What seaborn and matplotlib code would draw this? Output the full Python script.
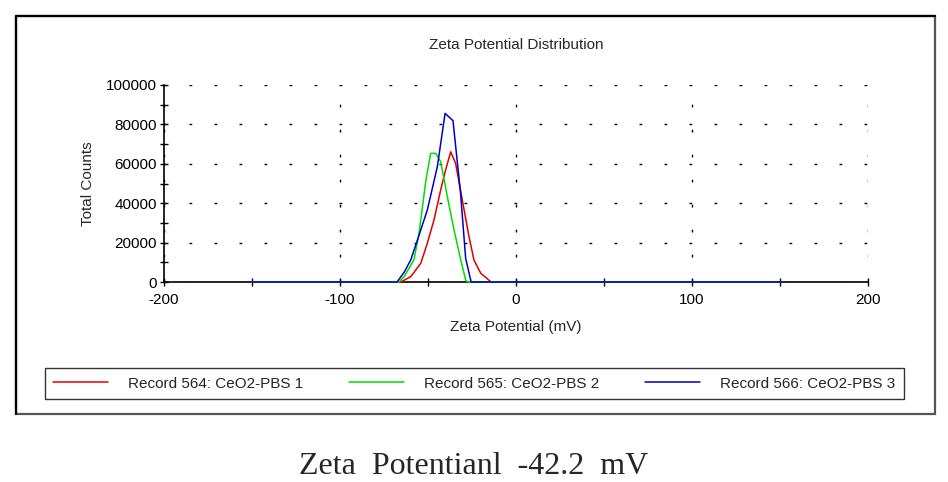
import matplotlib
matplotlib.use("Agg")
import matplotlib.pyplot as plt
import seaborn as sns
import pandas as pd
from matplotlib.patches import Rectangle
from matplotlib.ticker import MultipleLocator

# values (mV, counts)
red_x = [-150, -65.5, -59.8, -54.1, -50.4, -46.6, -42.8, -40.0, -37.1, -34.3, -30.5, -26.7, -23.9, -20.0, -14.4, -13.5, 150]
red_y = [0, 0, 2700, 9500, 19600, 31500, 46700, 56900, 66100, 60200, 41600, 23000, 11200, 4400, 200, 0, 0]

green_x = [-150, -66.5, -63.6, -58.0, -55.1, -51.3, -48.5, -45.6, -42.8, -39.0, -35.2, -31.4, -28.6, -27.5, 150]
green_y = [0, 0, 2700, 11200, 24700, 50900, 65300, 65300, 61100, 43300, 26400, 11200, 1000, 0, 0]

blue_x = [-150, -67.6, -63.5, -59.8, -55.0, -50.4, -44.7, -40.3, -35.8, -31.5, -28.6, -25.5, 150]
blue_y = [0, 0, 5000, 11200, 24000, 36500, 58500, 85600, 81900, 45000, 12000, 0, 0]

names = ["Record 564: CeO2-PBS 1", "Record 565: CeO2-PBS 2", "Record 566: CeO2-PBS 3"]
colors = ["#e00000", "#00dd00", "#0000c8"]

df = pd.concat([
    pd.DataFrame({"x": red_x, "y": red_y, "rec": names[0]}),
    pd.DataFrame({"x": green_x, "y": green_y, "rec": names[1]}),
    pd.DataFrame({"x": blue_x, "y": blue_y, "rec": names[2]}),
])

sns.set_style("white")
plt.rcParams["font.family"] = ["Liberation Sans", "DejaVu Sans"]
plt.rcParams["axes.unicode_minus"] = False

fs = 11
fig = plt.figure(figsize=(9.48, 4.82), dpi=100)
ax = fig.add_axes([164 / 948, 1 - 282 / 482, 704 / 948, 197 / 482])

sns.lineplot(data=df, x="x", y="y", hue="rec", palette=colors, sort=False,
             estimator=None, linewidth=1.1, ax=ax, legend=False)
for ln in ax.lines:
    ln.set_clip_on(False)
    ln.set_zorder(5)

ax.set_xlim(-200, 200)
ax.set_ylim(0, 100000)
ax.xaxis.set_major_locator(MultipleLocator(100))
ax.xaxis.set_minor_locator(MultipleLocator(50))
ax.yaxis.set_major_locator(MultipleLocator(20000))
ax.yaxis.set_minor_locator(MultipleLocator(10000))
ax.tick_params(which="both", direction="inout", length=6, width=1, labelsize=fs,
               colors="black", left=True, bottom=True)
ax.tick_params(axis="x", pad=5)
ax.tick_params(axis="y", pad=2)
ax.grid(True, which="major", color="black", linestyle=(0, (2, 16)), linewidth=1)
for s in ["top", "right"]:
    ax.spines[s].set_visible(False)
for s in ["left", "bottom"]:
    ax.spines[s].set_color("black")
    ax.spines[s].set_linewidth(1.2)
ax.set_xlabel("Zeta Potential (mV)", fontsize=fs, labelpad=9)
ax.set_ylabel("Total Counts", fontsize=fs, labelpad=8)
ax.set_title("Zeta Potential Distribution", fontsize=fs, pad=26)

handles = [plt.Line2D([], [], color=c, lw=1.1) for c in colors]
fig.legend(handles, names, ncol=3, mode="expand", loc="lower left",
           bbox_to_anchor=(45 / 948, 1 - 399 / 482, 859 / 948, 29 / 482),
           frameon=True, fancybox=False, edgecolor="black", fontsize=fs,
           handlelength=3.6, handletextpad=1.3, borderaxespad=0, borderpad=0.55)
fig.legends[0].get_frame().set_linewidth(1)

# outer frame of the chart panel
fig.patches.append(Rectangle((16 / 948, 1 - 414 / 482), 919 / 948, 398 / 482,
                             transform=fig.transFigure, fill=False,
                             edgecolor="#555555", linewidth=1.6))
fig.add_artist(plt.Line2D([16 / 948, 16 / 948, 935 / 948], [1 - 414 / 482, 1 - 16 / 482, 1 - 16 / 482],
                          transform=fig.transFigure, color="black", lw=1.6))

fig.text(0.5, 1 - 466 / 482, "Zeta  Potentianl  -42.2  mV", ha="center", va="center",
         fontsize=23, family=["Liberation Serif", "DejaVu Serif"])

fig.savefig("out.png", dpi=100)
